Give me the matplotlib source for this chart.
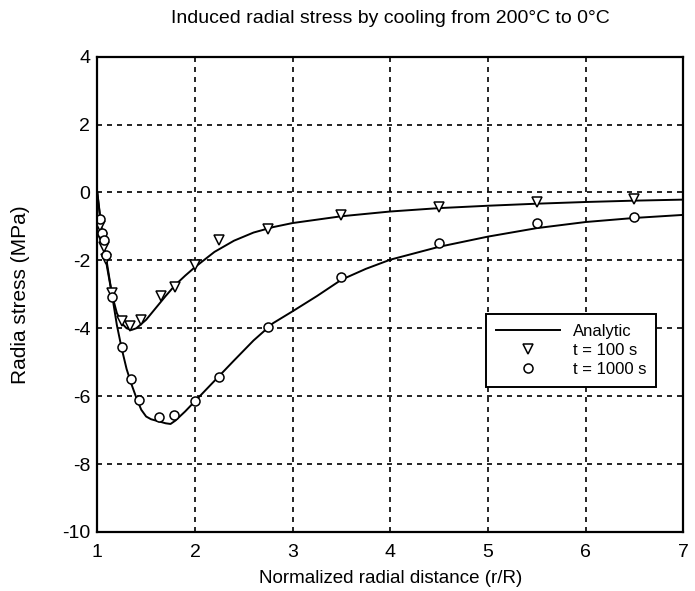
import matplotlib
matplotlib.use("Agg")
import matplotlib.pyplot as plt

plt.rcParams["font.family"] = ["Liberation Sans", "DejaVu Sans"]
plt.rcParams["axes.unicode_minus"] = False

# analytic curves
x_100 = [1.0, 1.05, 1.1, 1.15, 1.2, 1.25, 1.3, 1.35, 1.4, 1.5, 1.6, 1.7, 1.8, 1.9,
         2.0, 2.2, 2.4, 2.6, 2.8, 3.0, 3.5, 4.0, 4.5, 5.0, 5.5, 6.0, 6.5, 7.0]
y_100 = [0.0, -1.3, -2.2, -3.0, -3.55, -3.85, -4.0, -4.05, -4.0, -3.75, -3.4, -3.05,
         -2.72, -2.45, -2.2, -1.75, -1.42, -1.18, -1.02, -0.9, -0.7, -0.56, -0.46,
         -0.39, -0.33, -0.28, -0.24, -0.21]

x_1000 = [1.0, 1.05, 1.1, 1.15, 1.2, 1.25, 1.3, 1.35, 1.4, 1.45, 1.5, 1.55, 1.6, 1.7,
          1.75, 1.8, 1.9, 2.0, 2.2, 2.4, 2.6, 2.8, 3.0, 3.25, 3.5, 3.75, 4.0, 4.5,
          5.0, 5.5, 6.0, 6.5, 7.0]
y_1000 = [0.0, -1.2, -2.1, -3.0, -3.9, -4.6, -5.2, -5.65, -6.05, -6.4, -6.6, -6.68,
          -6.72, -6.8, -6.82, -6.72, -6.45, -6.15, -5.55, -4.95, -4.36, -3.85, -3.5,
          -3.05, -2.57, -2.25, -1.98, -1.6, -1.3, -1.05, -0.87, -0.75, -0.66]

# numerical results
px_100 = [1.03, 1.05, 1.07, 1.09, 1.15, 1.25, 1.33, 1.45, 1.65, 1.8, 2.0, 2.25,
          2.75, 3.5, 4.5, 5.5, 6.5]
py_100 = [-1.0, -1.35, -1.6, -1.95, -2.95, -3.8, -3.92, -3.75, -3.05, -2.78, -2.15,
          -1.4, -1.07, -0.66, -0.43, -0.28, -0.2]

px_1000 = [1.03, 1.05, 1.07, 1.09, 1.15, 1.25, 1.35, 1.43, 1.63, 1.79, 2.0, 2.25,
           2.75, 3.5, 4.5, 5.5, 6.5]
py_1000 = [-0.78, -1.2, -1.4, -1.85, -3.09, -4.55, -5.5, -6.1, -6.6, -6.57, -6.15,
           -5.44, -3.96, -2.48, -1.48, -0.89, -0.72]

fig = plt.figure(figsize=(6.95, 5.91), dpi=100)
ax = fig.add_axes([0.140, 0.100, 0.843, 0.804])

ax.plot(x_100, y_100, color="black", lw=1.4, label="Analytic")
ax.plot(x_1000, y_1000, color="black", lw=1.4)
ax.plot(px_100, py_100, "v", ms=7, mfc="white", mec="black", mew=1.1,
        label="t = 100 s")
ax.plot(px_1000, py_1000, "o", ms=6.5, mfc="white", mec="black", mew=1.1,
        label="t = 1000 s")

ax.set_xlim(1, 7)
ax.set_ylim(-10, 4)
ax.set_xticks(range(1, 8))
ax.set_yticks(range(-10, 5, 2))
ax.tick_params(length=0, labelsize=14)
ax.tick_params(axis="x", pad=9)
ax.tick_params(axis="y", pad=5)
ax.grid(True, color="black", linestyle=(0, (3, 3)), linewidth=1.2)
for s in ax.spines.values():
    s.set_linewidth(1.6)

ax.set_title("Induced radial stress by cooling from 200\u00b0C to 0\u00b0C",
             fontsize=14, pad=24)
ax.set_xlabel("Normalized radial distance (r/R)", fontsize=13.5)
ax.set_ylabel("Radia stress (MPa)", fontsize=15)
ax.xaxis.set_label_coords(0.5, -0.08)
ax.yaxis.set_label_coords(-0.115, 0.5)

leg = ax.legend(loc="upper left", bbox_to_anchor=(0.664, 0.458), fontsize=12,
                frameon=True, fancybox=False, framealpha=1, edgecolor="black",
                handlelength=3.8, handletextpad=0.8, borderpad=0.6,
                labelspacing=0.22, borderaxespad=0)
leg.get_frame().set_linewidth(1.4)

fig.savefig("out.png", dpi=100)
